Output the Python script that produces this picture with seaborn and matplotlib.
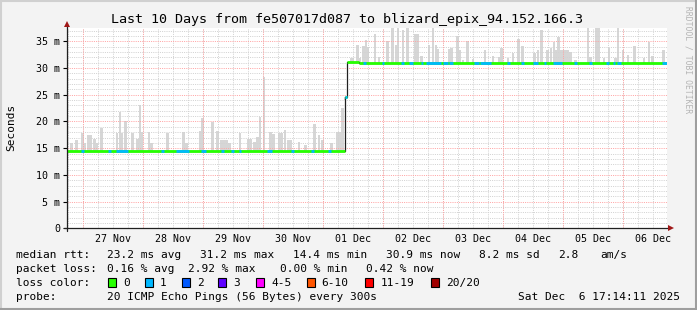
import numpy as np
import matplotlib
matplotlib.use("Agg")
import matplotlib.pyplot as plt
from matplotlib.patches import Rectangle
from matplotlib.lines import Line2D
import pandas as pd
import seaborn as sns

# ---------------- data (time = hours since Nov 26 17:14:11, 240 h window) ----------------
median_edges_h = [0.0, 111.4, 112.0, 117.0, 240.0]
median_ms = [14.5, 24.5, 31.2, 31.0]

loss1_start_h = [5.8, 16.7, 19.9, 37.8, 43.9, 53.9, 61.8, 65.9, 68.9, 80.3, 89.9, 97.9,
                 104.7, 111.4, 118.7, 126.3, 133.9, 137.0, 141.6, 143.6, 150.4, 153.0,
                 163.0, 165.5, 176.3, 181.8, 186.6, 191.0, 194.4, 203.0, 208.8, 215.9,
                 218.6, 220.3, 238.0]
loss1_end_h = [6.8, 17.8, 24.7, 38.8, 48.8, 55.7, 62.8, 66.9, 69.9, 82.1, 90.9, 98.9,
               105.7, 112.0, 119.7, 127.1, 135.0, 138.4, 142.5, 149.7, 152.6, 154.6,
               165.0, 169.7, 177.3, 182.8, 188.4, 191.8, 198.1, 204.0, 210.1, 216.9,
               219.5, 221.7, 240.0]

smoke_h = [2.0, 4.0, 6.3, 7.2, 8.8, 9.6, 11.2, 12.0, 14.0, 20.2, 21.4, 22.2, 23.6, 26.4,
           28.4, 29.4, 30.2, 33.0, 34.0, 40.3, 46.8, 48.0, 53.4, 54.4, 58.3, 60.3, 62.0,
           63.0, 64.0, 65.2, 69.3, 72.8, 73.6, 75.2, 76.4, 77.3, 79.0, 81.6, 82.8, 84.9,
           85.9, 87.3, 88.8, 89.8, 93.0, 95.6, 99.2, 100.9, 102.4, 106.0, 108.3, 109.2,
           110.3, 111.4,
           113.8, 114.6, 116.4, 117.3, 118.7, 119.7, 120.4, 123.4, 125.0, 128.4, 130.4,
           132.0, 132.6, 134.5, 136.4, 139.5, 140.5, 142.0, 145.0, 146.5, 147.8, 148.6,
           153.0, 154.0, 156.3, 157.1, 158.5, 160.4, 162.5, 167.3, 170.5, 173.0, 174.0,
           176.5, 178.5, 180.7, 182.3, 187.2, 188.5, 190.0, 192.3, 193.7, 195.0, 196.0,
           196.8, 197.5, 198.5, 199.5, 200.5, 201.5, 203.5, 208.5, 209.5, 211.7, 212.7,
           215.0, 217.0, 219.5, 220.5, 222.5, 224.5, 227.2, 231.0, 233.0, 234.3, 238.7]
smoke_top_ms = [15.9, 16.5, 17.8, 16.0, 17.4, 17.4, 16.7, 16.0, 18.8, 17.9, 21.8, 17.9,
                20.1, 17.9, 16.7, 23.0, 18.0, 18.1, 16.0, 17.9, 18.1, 16.0, 18.2, 20.6,
                19.9, 18.2, 16.5, 16.5, 16.5, 15.9, 17.8, 16.7, 16.7, 16.2, 17.1, 20.9,
                28.3, 18.1, 17.6, 17.9, 17.9, 18.4, 16.5, 16.5, 16.2, 15.6, 19.6, 17.4,
                16.5, 15.9, 18.0, 18.0, 22.5, 24.0,
                31.9, 31.9, 34.4, 31.9, 34.2, 35.2, 34.0, 36.4, 32.0, 35.1, 37.6,
                34.4, 37.6, 37.2, 37.6, 36.3, 36.3, 32.3, 34.3, 37.6, 34.3, 33.6,
                33.6, 33.8, 36.0, 33.4, 31.6, 35.1, 31.7, 33.4, 32.3, 32.1, 33.8,
                31.9, 32.8, 35.4, 34.2, 32.8, 33.4, 37.2, 33.4, 33.8, 34.9, 33.3,
                35.8, 33.3, 33.3, 33.3, 33.3, 33.0, 31.5, 37.6, 32.0, 37.6, 37.6,
                31.9, 33.8, 31.9, 37.6, 33.4, 32.5, 34.2, 31.9, 34.9, 32.2, 33.4]

day_labels = ["27 Nov", "28 Nov", "29 Nov", "30 Nov", "01 Dec",
              "02 Dec", "03 Dec", "04 Dec", "05 Dec", "06 Dec"]
ytick_values = [0, 5, 10, 15, 20, 25, 30, 35]
ytick_labels = ["0", "5 m", "10 m", "15 m", "20 m", "25 m", "30 m", "35 m"]

loss_names = ["0", "1", "2", "3", "4-5", "6-10", "11-19", "20/20"]
loss_colors = ["#26ff00", "#00b8ff", "#0059ff", "#5e00ff", "#ff00ff", "#ff5500", "#ff0000", "#a10000"]

# ---------------- figure ----------------
W, H = 697, 310
sns.set_theme(style="white")
plt.rcParams["font.family"] = ["DejaVu Sans Mono", "DejaVu Sans"]

fig = plt.figure(figsize=(W / 100, H / 100), dpi=100)
fig.patch.set_facecolor("#f3f3f3")

ax_l, ax_r, ax_t, ax_b = 66.5, 666.5, 27.5, 228.3
ax = fig.add_axes([ax_l / W, 1 - ax_b / H, (ax_r - ax_l) / W, (ax_b - ax_t) / H])
ax.set_facecolor("white")
ax.set_xlim(0, 240)
ax.set_ylim(0, 37.6)

# grid (dotted)
midnight0 = 6.763
minor_x = [midnight0 - 6 + 6 * k for k in range(41) if 0 < midnight0 - 6 + 6 * k < 240]
major_x = [midnight0 + 24 * k for k in range(10)]
gkw = dict(lw=0.72, ls=(0, (1, 1.2)))
for x in minor_x:
    ax.axvline(x, color="#d2d2d2", zorder=1.5, **gkw)
for y in range(1, 38):
    if y % 5:
        ax.axhline(y, color="#d2d2d2", zorder=1.5, **gkw)
for x in major_x:
    ax.axvline(x, color="#ffa4a4", zorder=1.6, **gkw)
for y in ytick_values[1:]:
    ax.axhline(y, color="#ffa4a4", zorder=1.6, **gkw)

edges = np.array(median_edges_h)
med = np.array(median_ms)


def median_at(h):
    idx = np.clip(np.searchsorted(edges, h, side="right") - 1, 0, len(med) - 1)
    return med[idx]


# smoke
sh = np.array(smoke_h)
st = np.array(smoke_top_ms)
base = median_at(sh)
ax.bar(sh, st - base, bottom=base, width=1.0, color="#d6d6d6", linewidth=0, zorder=1)

# median step line (seaborn)
df = pd.DataFrame({"hour": list(edges), "ms": list(med) + [med[-1]]})
sns.lineplot(data=df, x="hour", y="ms", drawstyle="steps-post", color="#202020",
             lw=0.9, estimator=None, ax=ax, zorder=3)
ax.hlines(med, edges[:-1], edges[1:], color=loss_colors[0], lw=2.0, zorder=4)
ls_ = np.array(loss1_start_h)
le_ = np.array(loss1_end_h)
ax.hlines(median_at(ls_ + 0.01), ls_, le_, color=loss_colors[1], lw=2.0, zorder=5)

# axes styling
for s in ax.spines.values():
    s.set_visible(False)
ax.set_xlabel("")
ax.set_ylabel("")
ax.set_xticks([m + 12 for m in major_x])
ax.set_xticklabels(day_labels, fontsize=7.2)
ax.set_yticks(ytick_values)
ax.set_yticklabels(ytick_labels, fontsize=7.2)
ax.tick_params(axis="x", length=0, pad=4, colors="#000000")
ax.tick_params(axis="y", length=3, width=0.8, pad=1.5, colors="#000000", left=True)

axis_col = "#202020"
ax.plot([0, 0], [-0.012, 1.012], transform=ax.transAxes, color=axis_col, lw=0.9,
        clip_on=False, zorder=6)
ax.plot([-0.004, 1.004], [0, 0], transform=ax.transAxes, color=axis_col, lw=0.9,
        clip_on=False, zorder=6)
arrow_col = "#a01818"
ax.plot([0], [1.018], marker="^", ms=4.5, color=arrow_col, transform=ax.transAxes,
        clip_on=False, zorder=7, mew=0)
ax.plot([1.0075], [0], marker=">", ms=4.5, color=arrow_col, transform=ax.transAxes,
        clip_on=False, zorder=7, mew=0)


def ftxt(x, y, s, **kw):
    kw.setdefault("fontsize", 8)
    kw.setdefault("va", "baseline")
    kw.setdefault("ha", "left")
    kw.setdefault("color", "#000000")
    fig.text(x / W, 1 - y / H, s, **kw)


# title and labels
ftxt(347, 22.5, "Last 10 Days from fe507017d087 to blizard_epix_94.152.166.3",
     fontsize=9.6, ha="center")
ftxt(11, 127.5, "Seconds", rotation=90, va="center", ha="center", fontsize=8)
ftxt(688, 60, "RRDTOOL / TOBI OETIKER", rotation=270, va="center", ha="center",
     fontsize=5.8, color="#b4b4b4")

# legend lines
b1, b2, b3, b4 = 257.8, 272.0, 286.2, 300.4
ftxt(16, b1, "median rtt:")
for x, s in [(107.3, "23.2 ms avg"), (200, "31.2 ms max"), (293.3, "14.4 ms min"),
             (386, "30.9 ms now"), (479.3, "8.2 ms sd"), (558.3, "2.8"), (600, "am/s")]:
    ftxt(x, b1, s)
ftxt(16, b2, "packet loss:")
for x, s in [(107.3, "0.16 % avg"), (188.3, "2.92 % max"), (280, "0.00 % min"),
             (366, "0.42 % now")]:
    ftxt(x, b2, s)
ftxt(16, b3, "loss color:")
box_x = [108.3, 145.0, 181.7, 218.3, 256.0, 306.7, 365.3, 430.7]
for x, name, col in zip(box_x, loss_names, loss_colors):
    fig.add_artist(Rectangle((x / W, 1 - 286.7 / H), 8 / W, 9 / H,
                             transform=fig.transFigure, facecolor=col,
                             edgecolor="#000000", lw=0.8))
    ftxt(x + 15, b3, name)
ftxt(16, b4, "probe:")
ftxt(107.3, b4, "20 ICMP Echo Pings (56 Bytes) every 300s")
ftxt(680, b4, "Sat Dec  6 17:14:11 2025", ha="right")


# frame shading
def fline(x0, y0, x1, y1, col, lw=1.5):
    fig.add_artist(Line2D([x0 / W, x1 / W], [1 - y0 / H, 1 - y1 / H],
                          transform=fig.transFigure, color=col, lw=lw))


fline(0, 0.5, W, 0.5, "#d0d0d0")
fline(0.5, 0, 0.5, H, "#d0d0d0")
fline(0, H - 0.8, W, H - 0.8, "#9e9e9e")
fline(W - 0.8, 0, W - 0.8, H, "#9e9e9e")

fig.savefig("out.png", dpi=100, facecolor=fig.get_facecolor())
